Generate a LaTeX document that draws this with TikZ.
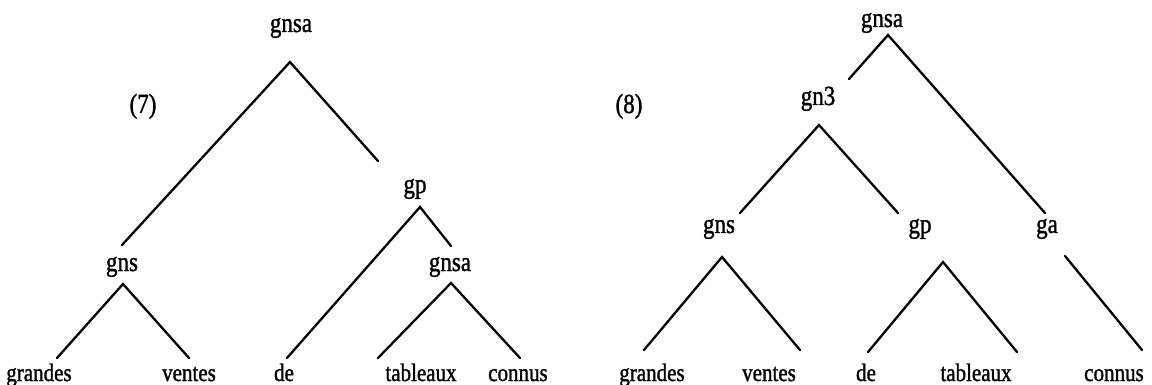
\documentclass[tikz,border=0pt]{standalone}
\usepackage{fontspec}
\usepackage{graphicx}
\setmainfont{Liberation Serif}
\newfontfamily\scanfont{Liberation Serif}[FakeBold=1.4]
\newcommand{\tall}[1]{\scalebox{1}[1.2]{#1}}
\begin{document}
\begin{tikzpicture}[x=1pt,y=-1pt,
  lbl/.style={inner sep=0pt,anchor=base,font=\scanfont\fontsize{23}{25}\selectfont},
  wrd/.style={inner sep=0pt,anchor=base,font=\scanfont\fontsize{21}{23}\selectfont},
  br/.style={line width=2.3pt,line cap=round}]
\useasboundingbox (0,0) rectangle (1152,385);
% ---------- tree (7) ----------
\node[lbl] (l7) at (143,113) {\tall{(7)}};
\node[lbl] (Lgnsa) at (291,32) {\tall{gnsa}};
\node[lbl] (Lgp) at (415,193) {\tall{gp}};
\node[lbl] (Lgns) at (122,271) {\tall{gns}};
\node[lbl] (Lgnsb) at (450,271) {\tall{gnsa}};
\node[wrd] (Lw1) at (39,381) {\tall{grandes}};
\node[wrd] (Lw2) at (189,381) {\tall{ventes}};
\node[wrd] (Lw3) at (284,381) {\tall{de}};
\node[wrd] (Lw4) at (421,381) {\tall{tableaux}};
\node[wrd] (Lw5) at (518,381) {\tall{connus}};
\coordinate (LA) at (290,62);
\coordinate (LAl) at (122,245);
\coordinate (LAr) at (378,161);
\coordinate (LB) at (420,207);
\coordinate (LBl) at (287,358);
\coordinate (LBr) at (451,246);
\coordinate (LC) at (123,284);
\coordinate (LCl) at (57,358);
\coordinate (LCr) at (189,358);
\coordinate (LD) at (451,283);
\coordinate (LDl) at (378,358);
\coordinate (LDr) at (520,358);
\draw[br] (LAl) -- (LA) -- (LAr);
\draw[br] (LBl) -- (LB) -- (LBr);
\draw[br] (LCl) -- (LC) -- (LCr);
\draw[br] (LDl) -- (LD) -- (LDr);
% ---------- tree (8) ----------
\node[lbl] (l8) at (629,113) {\tall{(8)}};
\node[lbl] (Rgnsa) at (882,27) {\tall{gnsa}};
\node[lbl] (Rgn) at (818,105) {\tall{gn3}};
\node[lbl] (Rgns) at (719,233) {\tall{gns}};
\node[lbl] (Rgp) at (920,233) {\tall{gp}};
\node[lbl] (Rga) at (1047,233) {\tall{ga}};
\node[wrd] (Rw1) at (652,381) {\tall{grandes}};
\node[wrd] (Rw2) at (769,381) {\tall{ventes}};
\node[wrd] (Rw3) at (866,381) {\tall{de}};
\node[wrd] (Rw4) at (976,381) {\tall{tableaux}};
\node[wrd] (Rw5) at (1114,381) {\tall{connus}};
\coordinate (RA) at (888,35);
\coordinate (RAl) at (849,79);
\coordinate (RAr) at (1045,213);
\coordinate (RB) at (819,125);
\coordinate (RBl) at (740,213);
\coordinate (RBr) at (898,213);
\coordinate (RC) at (722,257);
\coordinate (RCl) at (644,350);
\coordinate (RCr) at (800,350);
\coordinate (RD) at (943,262);
\coordinate (RDl) at (868,352);
\coordinate (RDr) at (1017,352);
\coordinate (RE) at (1065,256);
\coordinate (REr) at (1142,350);
\draw[br] (RAl) -- (RA) -- (RAr);
\draw[br] (RBl) -- (RB) -- (RBr);
\draw[br] (RCl) -- (RC) -- (RCr);
\draw[br] (RDl) -- (RD) -- (RDr);
\draw[br] (RE) -- (REr);
\end{tikzpicture}
\end{document}
